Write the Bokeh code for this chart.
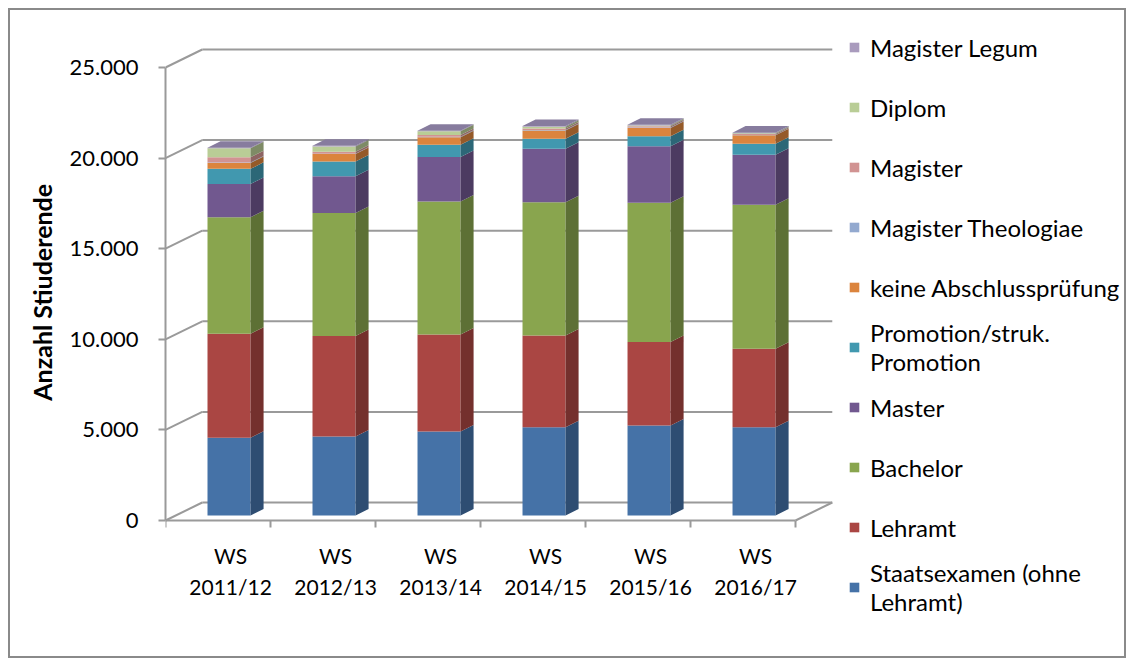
import numpy as np
from bokeh.plotting import figure
from bokeh.models import Range1d, FixedTicker, Legend, LegendItem
from bokeh.embed import file_html
from bokeh.resources import INLINE

# ---------------- data ----------------
seasons = ["WS\n2011/12", "WS\n2012/13", "WS\n2013/14", "WS\n2014/15", "WS\n2015/16", "WS\n2016/17"]

staatsexamen = [4290, 4360, 4640, 4870, 4970, 4870]
lehramt = [5740, 5540, 5350, 5060, 4600, 4330]
bachelor = [6430, 6800, 7340, 7360, 7690, 7950]
master = [1840, 2020, 2450, 2950, 3120, 2760]
promotion = [830, 810, 680, 550, 550, 610]
keine_abschluss = [330, 420, 420, 460, 460, 460]
magister_theologiae = [20, 20, 20, 20, 20, 20]
magister = [290, 110, 100, 90, 70, 60]
diplom = [500, 290, 200, 100, 50, 40]
magister_legum = [30, 30, 30, 30, 30, 30]

series_names = ["Staatsexamen (ohne\nLehramt)", "Lehramt", "Bachelor", "Master",
                "Promotion/struk.\nPromotion", "keine Abschlussprüfung",
                "Magister Theologiae", "Magister", "Diplom", "Magister Legum"]
series_values = [staatsexamen, lehramt, bachelor, master, promotion, keine_abschluss,
                 magister_theologiae, magister, diplom, magister_legum]
front_colors = ["#4572A7", "#AA4643", "#89A54E", "#71588F", "#4198AF", "#DB843D",
                "#93A9CF", "#D19392", "#B9CD96", "#A99BBD"]
side_colors = ["#2E4D72", "#74302D", "#5D7035", "#4C3B61", "#2C6777", "#955A29",
               "#64738D", "#8E6463", "#7E8B66", "#736981"]
top_color = "#877C9E"

y_ticks = [0, 5000, 10000, 15000, 20000, 25000]
y_tick_labels = ["0", "5.000", "10.000", "15.000", "20.000", "25.000"]
y_title = "Anzahl Stiuderende"

# ---------------- pseudo-3D geometry (styling constants) ----------------
BAR_W = 0.41        # front face width (x units)
BAR_SHIFT = 0.105   # shift of bar front centre from category centre
BAR_BASE = 276      # depth lift of bar bottoms (y units)
SIDE_DX = 0.124
SIDE_DY = 359
WALL_DX = 0.35
WALL_DY = 993
LABEL_SHIFT = 0.12
TITLE_PAD = "\u00a0" * 16   # lifts the rotated axis title towards the value range
n_cat = len(seasons)
FONT = "Lato"
GRID_COL = "#9a9a9a"

p = figure(width=1118, height=650,
           x_range=Range1d(0, 9.171), y_range=Range1d(-7726, 27594),
           output_backend="svg", toolbar_location=None,
           min_border_left=155, min_border_right=0, min_border_top=10, min_border_bottom=0)
p.margin = (8, 0, 0, 8)
p.styles = {"border": "2px solid #8a8a8a"}
p.outline_line_color = None
p.grid.visible = False
p.background_fill_color = "white"
p.border_fill_color = "white"

# back wall grid lines and diagonals
wall_y = [v + WALL_DY for v in y_ticks]
p.segment(x0=[0] * len(y_ticks), y0=y_ticks, x1=[WALL_DX] * len(y_ticks), y1=wall_y,
          line_color=GRID_COL, line_width=2)
p.segment(x0=[WALL_DX] * len(y_ticks), y0=wall_y, x1=[n_cat + WALL_DX] * len(y_ticks), y1=wall_y,
          line_color=GRID_COL, line_width=2)
p.segment(x0=[n_cat], y0=[0], x1=[n_cat + WALL_DX], y1=[WALL_DY],
          line_color=GRID_COL, line_width=2)

# bars
centers = np.arange(n_cat) + 0.5 + BAR_SHIFT
left = centers - BAR_W / 2
right = centers + BAR_W / 2
cum = np.zeros(n_cat) + BAR_BASE
renderers = []
for name, vals, fc, sc in zip(series_names, series_values, front_colors, side_colors):
    vals = np.array(vals, dtype=float)
    bottom = cum.copy()
    top = cum + vals
    r = p.quad(left=left, right=right, bottom=bottom, top=top,
               fill_color=fc, line_color=None)
    xs = [[rr, rr + SIDE_DX, rr + SIDE_DX, rr] for rr in right]
    ys = [[b, b + SIDE_DY, t + SIDE_DY, t] for b, t in zip(bottom, top)]
    p.patches(xs=xs, ys=ys, fill_color=sc, line_color=None)
    renderers.append(r)
    cum = top

# top faces
xs = [[l, r_, r_ + SIDE_DX, l + SIDE_DX] for l, r_ in zip(left, right)]
ys = [[t, t, t + SIDE_DY, t + SIDE_DY] for t in cum]
p.patches(xs=xs, ys=ys, fill_color=top_color, line_color=None)

# axes
yax = p.yaxis[0]
yax.ticker = FixedTicker(ticks=y_ticks, minor_ticks=[])
yax.major_label_overrides = dict(zip(y_ticks, y_tick_labels))
yax.bounds = (0, 25000)
yax.axis_line_color = GRID_COL
yax.axis_line_width = 2
yax.major_tick_line_color = GRID_COL
yax.major_tick_line_width = 2
yax.major_tick_out = 7
yax.major_tick_in = 0
yax.minor_tick_line_color = None
yax.major_label_standoff = 20
yax.major_label_text_font = FONT
yax.major_label_text_font_size = "22px"
yax.major_label_text_color = "black"
yax.axis_label = TITLE_PAD + y_title
yax.axis_label_text_font = FONT
yax.axis_label_text_font_size = "25px"
yax.axis_label_text_font_style = "bold"
yax.axis_label_text_color = "black"
yax.axis_label_standoff = 10

label_pos = [i + 0.5 + LABEL_SHIFT for i in range(n_cat)]
xax = p.xaxis[0]
xax.fixed_location = 0
xax.ticker = FixedTicker(ticks=label_pos, minor_ticks=list(range(n_cat + 1)))
xax.major_label_overrides = dict(zip(label_pos, seasons))
xax.bounds = (0, n_cat)
xax.axis_line_color = GRID_COL
xax.axis_line_width = 2
xax.major_tick_line_color = None
xax.major_tick_out = 0
xax.major_tick_in = 0
xax.minor_tick_line_color = GRID_COL
xax.minor_tick_line_width = 2
xax.minor_tick_out = 7
xax.minor_tick_in = 0
xax.major_label_standoff = 15
xax.major_label_text_font = FONT
xax.major_label_text_font_size = "21px"
xax.major_label_text_color = "black"
xax.major_label_text_line_height = 1.27

# legend
items = [LegendItem(label=n, renderers=[r]) for n, r in zip(series_names[::-1], renderers[::-1])]
legend = Legend(items=items, location=(683, 43), orientation="vertical",
                border_line_color=None, background_fill_alpha=0, padding=0, margin=0,
                glyph_width=12, glyph_height=12, label_standoff=10,
                label_height=60, spacing=0,
                label_text_font=FONT, label_text_font_size="24px",
                label_text_line_height=1.04, label_text_color="black")
p.add_layout(legend)

open("out.html", "w").write(file_html(p, INLINE))
